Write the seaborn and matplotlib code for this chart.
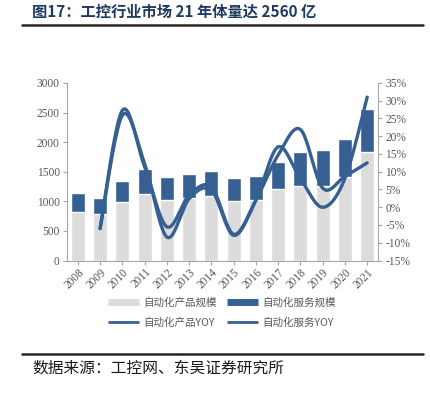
import numpy as np
import pandas as pd
import matplotlib
matplotlib.use("Agg")
import matplotlib.pyplot as plt
import seaborn as sns
from matplotlib.lines import Line2D

# ── Data ───────────────────────────────────────────────────
years       = [str(y) for y in range(2008, 2022)]
product     = [824, 780, 983, 1119, 1022, 1050, 1090, 1005, 1022, 1200, 1265, 1265, 1405, 1840]
service     = [311, 281, 361, 423, 395, 408, 429, 390, 402, 461, 571, 605, 645, 720]
yoy_years   = years[1:]
product_yoy = [-6.0, 25.9, 12.3, -8.4, 2.4, 4.8, -7.9, 2.0, 17.0, 8.0, 0.0, 8.1, 31.0]
service_yoy = [-6.0, 27.3, 11.4, -5.5, 3.4, 5.7, -7.6, 2.0, 14.7, 21.9, 5.4, 8.7, 12.5]

# ── Style ──────────────────────────────────────────────────
DARK  = "#365F92"
GRAY  = "#DCDCDC"
TXT   = "#595959"
SPINE = "#A6A6A6"
sns.set_style("white")
plt.rcParams["font.family"] = ["Liberation Serif", "Noto Sans CJK SC"]
CJK = ["Noto Sans CJK SC", "DejaVu Sans"]

df = pd.DataFrame({"year": years, "product": product, "service": service})
df["total"] = df["product"] + df["service"]


def smooth(xs, ys, n=24):
    # Catmull-Rom path through the points, like Excel's smoothed line
    p = np.column_stack([xs, ys]).astype(float)
    p = np.vstack([p[0], p, p[-1]])
    out = []
    t = np.linspace(0, 1, n)[:, None]
    for i in range(1, len(p) - 2):
        p0, p1, p2, p3 = p[i - 1], p[i], p[i + 1], p[i + 2]
        seg = 0.5 * (2 * p1 + (-p0 + p2) * t + (2 * p0 - 5 * p1 + 4 * p2 - p3) * t ** 2
                     + (-p0 + 3 * p1 - 3 * p2 + p3) * t ** 3)
        out.append(seg if i == 1 else seg[1:])
    out = np.vstack(out)
    return out[:, 0], out[:, 1]


fig = plt.figure(figsize=(4.31, 3.95), dpi=100)
ax = fig.add_axes([0.1548, 0.3405, 0.7229, 0.4494])

sns.barplot(data=df, x="year", y="total", color=DARK, saturation=1, width=0.63, ax=ax)
sns.barplot(data=df, x="year", y="product", color=GRAY, saturation=1, width=0.63, ax=ax)
ax.set_xlim(-0.5, len(years) - 0.5)
ax.set_ylim(0, 3000)
ax.set_yticks(range(0, 3001, 500))
ax.set_xlabel("")
ax.set_ylabel("")

ax2 = ax.twinx()
xpos = np.arange(1, len(years))
for vals in (product_yoy, service_yoy):
    sx, sy = smooth(xpos, vals)
    ax2.plot(sx, sy, color=DARK, lw=2.4, solid_capstyle="round")
ax2.set_ylim(-15, 35)
ax2.set_yticks(range(-15, 36, 5))
ax2.set_yticklabels([f"{v}%" for v in range(-15, 36, 5)])
ax2.set_xlim(-0.5, len(years) - 0.5)

for a in (ax, ax2):
    for s in a.spines.values():
        s.set_visible(False)
ax.spines["left"].set_visible(True)
ax.spines["bottom"].set_visible(True)
ax2.spines["right"].set_visible(True)
for s in (ax.spines["left"], ax.spines["bottom"], ax2.spines["right"]):
    s.set_color(SPINE)
    s.set_linewidth(0.8)

ax.tick_params(axis="y", left=True, length=3, color=SPINE, labelsize=8.3, labelcolor=TXT, pad=2)
ax.tick_params(axis="x", bottom=True, length=3, color=SPINE, labelsize=8.3, labelcolor=TXT, pad=1)
ax2.tick_params(axis="y", right=True, length=3, color=SPINE, labelsize=8.3, labelcolor=TXT, pad=2)
plt.setp(ax.get_xticklabels(), rotation=45, ha="right", rotation_mode="anchor")

# ── Legend ─────────────────────────────────────────────────
handles = [
    Line2D([], [], color=GRAY, lw=5, solid_capstyle="butt"),
    Line2D([], [], color=DARK, lw=2, solid_capstyle="butt"),
    Line2D([], [], color=DARK, lw=5, solid_capstyle="butt"),
    Line2D([], [], color=DARK, lw=2, solid_capstyle="butt"),
]
labels = ["自动化产品规模", "自动化产品YOY", "自动化服务规模", "自动化服务YOY"]
leg = fig.legend(handles, labels, loc="center", bbox_to_anchor=(0.515, 0.209), ncol=2,
                 frameon=False, handlelength=2.9, handletextpad=0.4,
                 columnspacing=1.0, labelspacing=0.9, prop={"family": CJK, "size": 7.6})
for t in leg.get_texts():
    t.set_color(TXT)

# ── Title and source ───────────────────────────────────────
fig.text(32 / 431, 1 - 12 / 395, "图17：工控行业市场 21 年体量达 2560 亿", fontsize=11,
         fontweight="bold", color="#1F3A60", family=CJK, va="center", ha="left")
fig.add_artist(Line2D([22 / 431, 423 / 431], [1 - 24.5 / 395] * 2, color="#262626", lw=1.8))
fig.add_artist(Line2D([22 / 431, 423 / 431], [1 - 353.5 / 395] * 2, color="#262626", lw=1.8))
fig.text(32 / 431, 1 - 368 / 395, "数据来源：工控网、东吴证券研究所", fontsize=11.3,
         color="#1A1A1A", family=CJK, va="center", ha="left")

fig.savefig("out.png", dpi=100)
